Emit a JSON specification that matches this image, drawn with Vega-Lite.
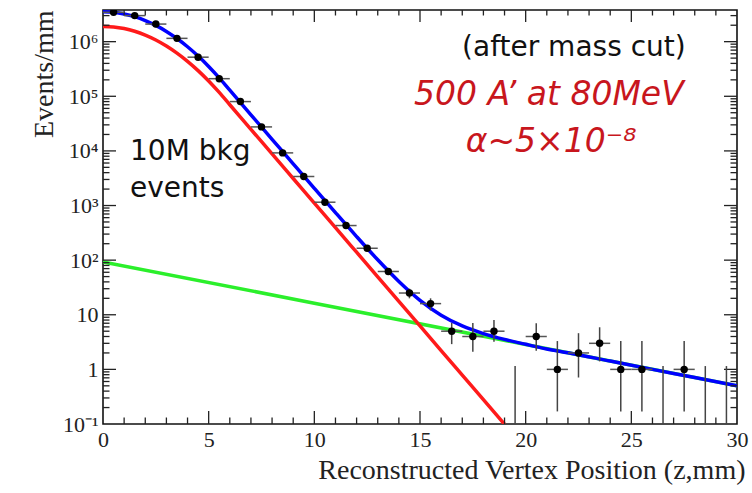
{
  "$schema": "https://vega.github.io/schema/vega-lite/v6.json",
  "width": 634,
  "height": 414,
  "autosize": {"type": "none"},
  "padding": {"left": 103, "top": 10, "right": 15, "bottom": 69},
  "background": "white",
  "config": {
    "view": {"stroke": "#111", "strokeWidth": 1.6},
    "axis": {
      "domain": false, "grid": false, "ticks": false,
      "labelFont": "Liberation Serif", "labelFontSize": 22, "labelColor": "#222",
      "titleFont": "Liberation Serif", "titleFontSize": 28, "titleFontWeight": "normal", "titleColor": "#222",
      "labelOverlap": false, "labelFlush": false, "labelBound": false
    }
  },
  "datasets": {
    "green": [
      {"x": 0, "y": 93}, {"x": 10, "y": 16.3}, {"x": 20, "y": 2.86}, {"x": 30, "y": 0.5}
    ],
    "red": [
      {"x": 0, "y": 1905000}, {"x": 0.5, "y": 1862000}, {"x": 1, "y": 1738000}, {"x": 1.5, "y": 1549000},
      {"x": 2, "y": 1318000}, {"x": 2.5, "y": 1072000}, {"x": 3, "y": 832000}, {"x": 3.5, "y": 617000},
      {"x": 4, "y": 436500}, {"x": 4.5, "y": 295000}, {"x": 5, "y": 190500}, {"x": 5.5, "y": 117500},
      {"x": 6, "y": 70000}, {"x": 7, "y": 24800}, {"x": 8, "y": 8810}, {"x": 9, "y": 3126},
      {"x": 10, "y": 1109}, {"x": 11, "y": 393.6}, {"x": 12, "y": 139.6}, {"x": 13, "y": 49.5},
      {"x": 14, "y": 17.58}, {"x": 15, "y": 6.24}, {"x": 16, "y": 2.21}, {"x": 17, "y": 0.785},
      {"x": 18, "y": 0.279}, {"x": 19, "y": 0.0989}
    ],
    "blue": [
      {"x": 0, "y": 3524000}, {"x": 0.5, "y": 3445000}, {"x": 1, "y": 3215000}, {"x": 1.5, "y": 2866000},
      {"x": 2, "y": 2438000}, {"x": 2.5, "y": 1983000}, {"x": 3, "y": 1539000}, {"x": 3.5, "y": 1141000},
      {"x": 4, "y": 807500}, {"x": 4.5, "y": 545800}, {"x": 5, "y": 352400}, {"x": 5.5, "y": 217400},
      {"x": 6, "y": 129500}, {"x": 7, "y": 45880}, {"x": 8, "y": 16320}, {"x": 9, "y": 5803},
      {"x": 10, "y": 2068}, {"x": 11, "y": 742}, {"x": 12, "y": 270}, {"x": 13, "y": 101.4},
      {"x": 14, "y": 40.7}, {"x": 15, "y": 18.4}, {"x": 16, "y": 9.83}, {"x": 17, "y": 6.25},
      {"x": 18, "y": 4.53}, {"x": 19, "y": 3.54}, {"x": 20, "y": 2.88}, {"x": 21, "y": 2.37},
      {"x": 22, "y": 2.02}, {"x": 24, "y": 1.42}, {"x": 26, "y": 1.0}, {"x": 28, "y": 0.71}, {"x": 30, "y": 0.5}
    ],
    "bins": [
      {"x": 0.5, "n": 3450000, "lo": 3448100, "hi": 3451900, "x0": 0, "x1": 1},
      {"x": 1.5, "n": 3000000, "lo": 2998300, "hi": 3001700, "x0": 1, "x1": 2},
      {"x": 2.5, "n": 2100000, "lo": 2098550, "hi": 2101450, "x0": 2, "x1": 3},
      {"x": 3.5, "n": 1150000, "lo": 1148930, "hi": 1151070, "x0": 3, "x1": 4},
      {"x": 4.5, "n": 520000, "lo": 519280, "hi": 520720, "x0": 4, "x1": 5},
      {"x": 5.5, "n": 210000, "lo": 209540, "hi": 210460, "x0": 5, "x1": 6},
      {"x": 6.5, "n": 80000, "lo": 79720, "hi": 80280, "x0": 6, "x1": 7},
      {"x": 7.5, "n": 27500, "lo": 27330, "hi": 27670, "x0": 7, "x1": 8},
      {"x": 8.5, "n": 9200, "lo": 9100, "hi": 9300, "x0": 8, "x1": 9},
      {"x": 9.5, "n": 3400, "lo": 3340, "hi": 3460, "x0": 9, "x1": 10},
      {"x": 10.5, "n": 1150, "lo": 1116, "hi": 1184, "x0": 10, "x1": 11},
      {"x": 11.5, "n": 430, "lo": 409, "hi": 451, "x0": 11, "x1": 12},
      {"x": 12.5, "n": 165, "lo": 152, "hi": 178, "x0": 12, "x1": 13},
      {"x": 13.5, "n": 62, "lo": 54, "hi": 70, "x0": 13, "x1": 14},
      {"x": 14.5, "n": 25, "lo": 20, "hi": 30, "x0": 14, "x1": 15},
      {"x": 15.5, "n": 16, "lo": 12, "hi": 20, "x0": 15, "x1": 16},
      {"x": 16.5, "n": 5, "lo": 2.9, "hi": 7.1, "x0": 16, "x1": 17},
      {"x": 17.5, "n": 4, "lo": 2.1, "hi": 7.1, "x0": 17, "x1": 18},
      {"x": 18.5, "n": 5, "lo": 3.2, "hi": 8.0, "x0": 18, "x1": 19},
      {"x": 19.5, "n": null, "lo": 0.1, "hi": 1.15, "x0": 19, "x1": 20},
      {"x": 20.5, "n": 4, "lo": 2.2, "hi": 7.0, "x0": 20, "x1": 21},
      {"x": 21.5, "n": 1, "lo": 0.17, "hi": 3.3, "x0": 21, "x1": 22},
      {"x": 22.5, "n": 2, "lo": 0.71, "hi": 4.6, "x0": 22, "x1": 23},
      {"x": 23.5, "n": 3, "lo": 1.4, "hi": 5.9, "x0": 23, "x1": 24},
      {"x": 24.5, "n": 1, "lo": 0.17, "hi": 3.3, "x0": 24, "x1": 25},
      {"x": 25.5, "n": 1, "lo": 0.17, "hi": 3.3, "x0": 25, "x1": 26},
      {"x": 26.5, "n": null, "lo": 0.1, "hi": 1.15, "x0": 26, "x1": 27},
      {"x": 27.5, "n": 1, "lo": 0.17, "hi": 3.3, "x0": 27, "x1": 28},
      {"x": 28.5, "n": null, "lo": 0.1, "hi": 1.15, "x0": 28, "x1": 29},
      {"x": 29.5, "n": null, "lo": 0.1, "hi": 1.15, "x0": 29, "x1": 30}
    ],
    "xt": [
      {"v": 1, "m": 0}, {"v": 2, "m": 0}, {"v": 3, "m": 0}, {"v": 4, "m": 0}, {"v": 5, "m": 1},
      {"v": 6, "m": 0}, {"v": 7, "m": 0}, {"v": 8, "m": 0}, {"v": 9, "m": 0}, {"v": 10, "m": 1},
      {"v": 11, "m": 0}, {"v": 12, "m": 0}, {"v": 13, "m": 0}, {"v": 14, "m": 0}, {"v": 15, "m": 1},
      {"v": 16, "m": 0}, {"v": 17, "m": 0}, {"v": 18, "m": 0}, {"v": 19, "m": 0}, {"v": 20, "m": 1},
      {"v": 21, "m": 0}, {"v": 22, "m": 0}, {"v": 23, "m": 0}, {"v": 24, "m": 0}, {"v": 25, "m": 1},
      {"v": 26, "m": 0}, {"v": 27, "m": 0}, {"v": 28, "m": 0}, {"v": 29, "m": 0}
    ],
    "yt": [
      {"v": 0.2, "m": 0}, {"v": 0.3, "m": 0}, {"v": 0.4, "m": 0}, {"v": 0.5, "m": 0}, {"v": 0.6, "m": 0}, {"v": 0.7, "m": 0}, {"v": 0.8, "m": 0}, {"v": 0.9, "m": 0},
      {"v": 1, "m": 1}, {"v": 2, "m": 0}, {"v": 3, "m": 0}, {"v": 4, "m": 0}, {"v": 5, "m": 0}, {"v": 6, "m": 0}, {"v": 7, "m": 0}, {"v": 8, "m": 0}, {"v": 9, "m": 0},
      {"v": 10, "m": 1}, {"v": 20, "m": 0}, {"v": 30, "m": 0}, {"v": 40, "m": 0}, {"v": 50, "m": 0}, {"v": 60, "m": 0}, {"v": 70, "m": 0}, {"v": 80, "m": 0}, {"v": 90, "m": 0},
      {"v": 100, "m": 1}, {"v": 200, "m": 0}, {"v": 300, "m": 0}, {"v": 400, "m": 0}, {"v": 500, "m": 0}, {"v": 600, "m": 0}, {"v": 700, "m": 0}, {"v": 800, "m": 0}, {"v": 900, "m": 0},
      {"v": 1000, "m": 1}, {"v": 2000, "m": 0}, {"v": 3000, "m": 0}, {"v": 4000, "m": 0}, {"v": 5000, "m": 0}, {"v": 6000, "m": 0}, {"v": 7000, "m": 0}, {"v": 8000, "m": 0}, {"v": 9000, "m": 0},
      {"v": 10000, "m": 1}, {"v": 20000, "m": 0}, {"v": 30000, "m": 0}, {"v": 40000, "m": 0}, {"v": 50000, "m": 0}, {"v": 60000, "m": 0}, {"v": 70000, "m": 0}, {"v": 80000, "m": 0}, {"v": 90000, "m": 0},
      {"v": 100000, "m": 1}, {"v": 200000, "m": 0}, {"v": 300000, "m": 0}, {"v": 400000, "m": 0}, {"v": 500000, "m": 0}, {"v": 600000, "m": 0}, {"v": 700000, "m": 0}, {"v": 800000, "m": 0}, {"v": 900000, "m": 0},
      {"v": 1000000, "m": 1}, {"v": 2000000, "m": 0}, {"v": 3000000, "m": 0}
    ],
    "txtBlack": [
      {"x": 1.28, "y": 6800, "t": "10M bkg"},
      {"x": 1.28, "y": 1440, "t": "events"},
      {"x": 16.99, "y": 550000, "t": "(after mass cut)"}
    ],
    "txtRed": [
      {"x": 21.1, "y": 69000, "t": "500 A’ at 80MeV"},
      {"x": 21.2, "y": 9600, "t": "α~5×10⁻⁸"}
    ]
  },
  "layer": [
    {
      "data": {"name": "green"},
      "mark": {"type": "line", "color": "#2bef2b", "strokeWidth": 3.5, "clip": true},
      "encoding": {
        "x": {"field": "x", "type": "quantitative", "scale": {"domain": [0, 30], "nice": false, "zero": false},
          "axis": {
            "orient": "bottom",
            "values": [0, 5, 10, 15, 20, 25, 30],
            "labelPadding": 5,
            "title": "Reconstructed Vertex Position (z,mm)",
            "titleX": 642, "titleY": 54, "titleAlign": "right", "titleBaseline": "alphabetic", "titleAnchor": "end"
          }},
        "y": {"field": "y", "type": "quantitative", "scale": {"type": "log", "domain": [0.1, 3800000], "nice": false},
          "axis": {
            "orient": "left",
            "values": [0.1, 1, 10, 100, 1000, 10000, 100000, 1000000],
            "labelExpr": "datum.value == 1 ? '1' : datum.value == 10 ? '10' : datum.value == 0.1 ? '10⁻¹' : datum.value == 100 ? '10²' : datum.value == 1000 ? '10³' : datum.value == 10000 ? '10⁴' : datum.value == 100000 ? '10⁵' : datum.value == 1000000 ? '10⁶' : ''",
            "labelPadding": 5,
            "title": "Events/mm",
            "titleX": -51, "titleY": 0, "titleAngle": -90, "titleAlign": "right", "titleBaseline": "alphabetic"
          }}
      }
    },
    {
      "data": {"name": "red"},
      "mark": {"type": "line", "color": "#ff1a1a", "strokeWidth": 3.5, "interpolate": "monotone", "clip": true},
      "encoding": {
        "x": {"field": "x", "type": "quantitative", "scale": {"domain": [0, 30], "nice": false, "zero": false}},
        "y": {"field": "y", "type": "quantitative", "scale": {"type": "log", "domain": [0.1, 3800000], "nice": false}}
      }
    },
    {
      "data": {"name": "blue"},
      "mark": {"type": "line", "color": "#0000ff", "strokeWidth": 3.5, "interpolate": "monotone", "clip": true},
      "encoding": {
        "x": {"field": "x", "type": "quantitative", "scale": {"domain": [0, 30], "nice": false, "zero": false}},
        "y": {"field": "y", "type": "quantitative", "scale": {"type": "log", "domain": [0.1, 3800000], "nice": false}}
      }
    },
    {
      "data": {"name": "xt"},
      "mark": {"type": "tick", "orient": "vertical", "color": "#222", "thickness": 1.3, "opacity": 1, "clip": true},
      "encoding": {
        "x": {"field": "v", "type": "quantitative", "scale": {"domain": [0, 30], "nice": false, "zero": false}},
        "y": {"datum": 0.1, "type": "quantitative", "scale": {"type": "log", "domain": [0.1, 3800000], "nice": false}},
        "size": {"condition": {"test": "datum.m == 1", "value": 26}, "value": 13}
      }
    },
    {
      "data": {"name": "xt"},
      "mark": {"type": "tick", "orient": "vertical", "color": "#222", "thickness": 1.3, "opacity": 1, "clip": true},
      "encoding": {
        "x": {"field": "v", "type": "quantitative", "scale": {"domain": [0, 30], "nice": false, "zero": false}},
        "y": {"datum": 3800000, "type": "quantitative", "scale": {"type": "log", "domain": [0.1, 3800000], "nice": false}},
        "size": {"condition": {"test": "datum.m == 1", "value": 24}, "value": 11}
      }
    },
    {
      "data": {"name": "yt"},
      "mark": {"type": "tick", "orient": "horizontal", "color": "#222", "thickness": 1.3, "opacity": 1, "clip": true},
      "encoding": {
        "x": {"datum": 0, "type": "quantitative", "scale": {"domain": [0, 30], "nice": false, "zero": false}},
        "y": {"field": "v", "type": "quantitative", "scale": {"type": "log", "domain": [0.1, 3800000], "nice": false}},
        "size": {"condition": {"test": "datum.m == 1", "value": 26}, "value": 13}
      }
    },
    {
      "data": {"name": "yt"},
      "mark": {"type": "tick", "orient": "horizontal", "color": "#222", "thickness": 1.3, "opacity": 1, "clip": true},
      "encoding": {
        "x": {"datum": 30, "type": "quantitative", "scale": {"domain": [0, 30], "nice": false, "zero": false}},
        "y": {"field": "v", "type": "quantitative", "scale": {"type": "log", "domain": [0.1, 3800000], "nice": false}},
        "size": {"condition": {"test": "datum.m == 1", "value": 26}, "value": 13}
      }
    },
    {
      "data": {"name": "bins"},
      "mark": {"type": "rule", "color": "#444", "strokeWidth": 1.5, "clip": true},
      "encoding": {
        "x": {"field": "x", "type": "quantitative", "scale": {"domain": [0, 30], "nice": false, "zero": false}},
        "y": {"field": "lo", "type": "quantitative", "scale": {"type": "log", "domain": [0.1, 3800000], "nice": false}},
        "y2": {"field": "hi"}
      }
    },
    {
      "data": {"name": "bins"},
      "mark": {"type": "rule", "color": "#555", "strokeWidth": 1.5, "clip": true},
      "encoding": {
        "x": {"field": "x0", "type": "quantitative", "scale": {"domain": [0, 30], "nice": false, "zero": false}},
        "x2": {"field": "x1"},
        "y": {"field": "n", "type": "quantitative", "scale": {"type": "log", "domain": [0.1, 3800000], "nice": false}}
      }
    },
    {
      "data": {"name": "bins"},
      "mark": {"type": "circle", "color": "#000", "opacity": 1, "size": 55, "clip": true},
      "encoding": {
        "x": {"field": "x", "type": "quantitative", "scale": {"domain": [0, 30], "nice": false, "zero": false}},
        "y": {"field": "n", "type": "quantitative", "scale": {"type": "log", "domain": [0.1, 3800000], "nice": false}}
      }
    },
    {
      "data": {"name": "txtBlack"},
      "mark": {"type": "text", "align": "left", "baseline": "alphabetic", "font": "DejaVu Sans", "fontSize": 28, "color": "#111"},
      "encoding": {
        "x": {"field": "x", "type": "quantitative", "scale": {"domain": [0, 30], "nice": false, "zero": false}},
        "y": {"field": "y", "type": "quantitative", "scale": {"type": "log", "domain": [0.1, 3800000], "nice": false}},
        "text": {"field": "t"}
      }
    },
    {
      "data": {"name": "txtRed"},
      "mark": {"type": "text", "align": "center", "baseline": "alphabetic", "font": "DejaVu Sans", "fontStyle": "italic", "fontSize": 33, "color": "#c8161d"},
      "encoding": {
        "x": {"field": "x", "type": "quantitative", "scale": {"domain": [0, 30], "nice": false, "zero": false}},
        "y": {"field": "y", "type": "quantitative", "scale": {"type": "log", "domain": [0.1, 3800000], "nice": false}},
        "text": {"field": "t"}
      }
    }
  ]
}
